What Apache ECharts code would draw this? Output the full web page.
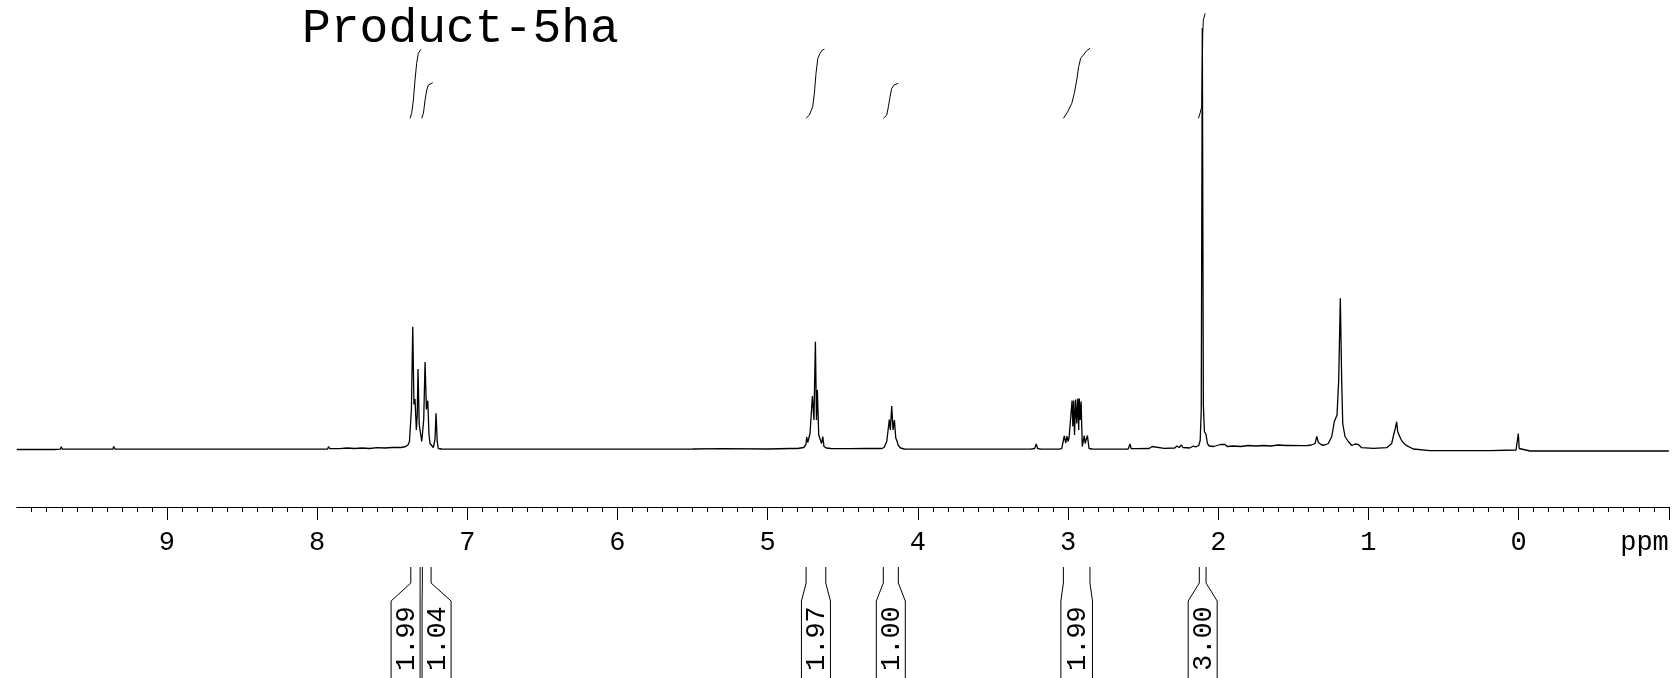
<!DOCTYPE html>
<html>
<head>
<meta charset="utf-8">
<script src="https://cdn.jsdelivr.net/npm/echarts/dist/echarts.min.js"></script>
<style>
html,body{margin:0;padding:0;background:#fff;}
#chart{width:1679px;height:678px;}
</style>
</head>
<body>
<div id="chart"></div>
<script>
// ---- DATA ----
const chartTitle = 'Product-5ha';
const axisUnit = 'ppm';
const majorTickValues = [-1, 0, 1, 2, 3, 4, 5, 6, 7, 8, 9];

// 1H spectrum: [ppm, intensity]
const spectrum = [
[10.0,0],[9.75,0],[9.71,0.3],[9.703,2.8],[9.696,0.3],
[9.36,0.3],[9.354,3],[9.346,0.5],
[8.68,0.3],[8.671,1.8],[8.66,0.3],
[8.135,0.3],[8.127,1.5],[8.12,0.3],
[7.93,0.5],[7.923,3],[7.915,0.8],
[7.85,0.8],[7.80,1.5],[7.75,1],[7.70,1.5],[7.65,1],[7.60,1.8],[7.55,1.5],[7.50,2],[7.465,2],[7.461,3],[7.44,2],[7.41,3],
[7.395,4.5],[7.385,8],[7.372,40],[7.363,122.8],[7.355,45],[7.348,50.5],[7.339,19.5],[7.333,35],[7.328,80.5],[7.320,25],[7.303,8],[7.290,30],[7.281,87.5],[7.272,40],[7.263,48.8],[7.255,15],[7.248,6],[7.226,2],[7.215,10],[7.208,36.2],[7.200,8],[7.193,1],[7.17,0.5],
[7.0,0.3],[6.5,0.3],[6.0,0.3],[5.5,0.5],[5.3,0.8],[5.0,0.5],[4.85,1],[4.80,1],
[4.760,2],[4.745,5],[4.740,12.5],[4.733,7],[4.728,6],[4.718,16],[4.710,14],[4.702,53.5],[4.692,29.5],[4.682,107.8],[4.675,29.5],[4.669,59.5],[4.660,14.5],[4.649,14.5],[4.641,6],[4.633,12.8],[4.625,3],[4.61,1.5],[4.58,1],
[4.45,0.8],[4.35,1],[4.26,1],
[4.24,1],[4.225,2],[4.215,3],[4.207,8],[4.198,19.5],[4.190,30],[4.183,19.5],[4.174,43.5],[4.165,19.5],[4.156,29.5],[4.147,11.5],[4.140,9],[4.130,4],[4.115,1.5],[4.09,0.5],
[3.8,0.3],[3.5,0.3],[3.25,0.3],[3.222,1],[3.212,5.5],[3.202,1],[3.18,0.3],
[3.06,0.3],[3.042,0.8],[3.025,13.5],[3.015,6.5],[3.007,13.5],[3.000,8],[2.993,12],[2.985,12.5],[2.973,49],[2.968,23],[2.962,49],[2.957,14.5],[2.949,50],[2.942,26],[2.935,51],[2.929,19.5],[2.925,51],[2.919,29.5],[2.913,48],[2.905,3],[2.892,14],[2.886,6],[2.871,14],[2.860,1],[2.84,0.5],
[2.7,0.3],[2.60,0.5],[2.592,1],[2.587,5.5],[2.580,1],[2.55,0.8],
[2.46,1],[2.44,3],[2.43,1.5],[2.36,1.2],[2.29,1.5],[2.275,3.5],[2.26,2],[2.245,4.5],[2.235,2],[2.19,1.5],[2.165,3.5],[2.150,2.5],
[2.130,4],[2.120,9],[2.113,40],[2.106,421.5],[2.099,45],[2.092,18],[2.081,15],[2.072,6],[2.06,3.5],[2.03,3],
[1.985,5],[1.975,3.5],[1.955,5],[1.94,3],[1.90,3.5],[1.85,3],[1.80,4],[1.75,3.5],[1.70,4],[1.65,3.5],[1.60,4.5],[1.55,4],[1.52,4],[1.45,3.8],[1.411,3.8],[1.38,4.5],
[1.355,6],[1.344,13.2],[1.333,7],[1.327,8.5],[1.311,4.5],[1.290,4.5],[1.267,6],[1.244,13],[1.227,28],[1.218,26.5],[1.209,34.5],[1.198,69],[1.187,151.2],[1.178,69],[1.171,26],[1.156,13],[1.134,8],[1.111,4],[1.089,5.5],[1.078,3.5],[1.067,5],[1.045,1.8],[0.967,1.2],[0.878,1.8],
[0.845,6],[0.830,16],[0.821,21],[0.812,27.8],[0.805,17.8],[0.794,16.8],[0.783,10],[0.768,6.8],[0.745,3.8],[0.701,0.5],[0.59,-1.2],[0.19,-1.2],[0.017,-0.5],
[0.008,1],[0.002,16],[-0.004,1],[-0.009,-0.5],[-0.076,-1.5],[-1.0,-1.5]
];

// integral curves (running integral traces drawn above the peaks): [ppm, level]
const integralCurveA = [[7.381,331.2],[7.370,336.2],[7.359,349.5],[7.348,369.5],[7.337,386.2],[7.326,396.2],[7.308,400.2]];
const integralCurveB = [[7.303,331.2],[7.292,336.2],[7.281,349.5],[7.270,359.5],[7.259,364.5],[7.230,366.8]];
const integralCurveC = [[4.744,331.2],[4.722,334.5],[4.700,342.8],[4.689,356.2],[4.678,376.2],[4.666,391.2],[4.651,396.2],[4.636,399.5],[4.622,400.2]];
const integralCurveD = [[4.229,331.2],[4.207,334.5],[4.196,342.8],[4.185,352.8],[4.174,361.2],[4.158,364.5],[4.130,366.2]];
const integralCurveE = [[3.031,331.2],[3.002,337.8],[2.975,346.2],[2.958,356.2],[2.942,369.5],[2.929,382.8],[2.916,391.2],[2.898,394.5],[2.876,398.8],[2.854,401.2]];
const integralCurveF = [[2.132,331.2],[2.121,336.2],[2.110,342.8],[2.106,382.8],[2.103,416.2],[2.099,429.5],[2.087,436.2]];

// integration regions and their values
const integStart = [7.376, 7.299, 4.744, 4.230, 3.031, 2.126];
const integEnd   = [7.314, 7.241, 4.613, 4.130, 2.854, 2.081];
const integValue = ['1.99', '1.04', '1.97', '1.00', '1.99', '3.00'];

// axis
const ppmMin = -1, ppmMax = 10;
const yMin = -57.5, yMax = 449.5;

// ---- CHART ----
const FONT = '"Liberation Mono", "DejaVu Sans Mono", monospace';
const chart = echarts.init(document.getElementById('chart'), null, {renderer: 'canvas'});

function layoutBoxes(api) {
  const boxes = integStart.map((s, i) => {
    const a = api.coord([s, 0])[0], b = api.coord([integEnd[i], 0])[0];
    const x1 = Math.min(a, b), x2 = Math.max(a, b);
    return {x1, x2, w: Math.max(x2 - x1 + 5, 29), c: (x1 + x2) / 2};
  });
  const order = boxes.map((b, i) => i).sort((p, q) => boxes[p].c - boxes[q].c);
  for (let it = 0; it < 30; it++) {
    let moved = false;
    for (let k = 0; k < order.length - 1; k++) {
      const A = boxes[order[k]], B = boxes[order[k + 1]];
      const need = A.w / 2 + B.w / 2 + 2 - (B.c - A.c);
      if (need > 0.01) { A.c -= need / 2; B.c += need / 2; moved = true; }
    }
    if (!moved) break;
  }
  return boxes;
}

function renderIntegral(params, api) {
  const boxes = layoutBoxes(api);
  const b = boxes[params.dataIndex];
  const ay = api.coord([0, yMin])[1];
  const L = b.c - b.w / 2, R = b.c + b.w / 2;
  const ls = {stroke: '#000', lineWidth: 1, fill: null};
  return {
    type: 'group',
    children: [
      {type: 'polyline', shape: {points: [[b.x1, ay + 60], [b.x1, ay + 76], [L, ay + 94], [L, ay + 200]]}, style: ls},
      {type: 'polyline', shape: {points: [[b.x2, ay + 60], [b.x2, ay + 76], [R, ay + 94], [R, ay + 200]]}, style: ls},
      {type: 'text', x: b.c + 1, y: ay + 164, rotation: Math.PI / 2,
       style: {text: integValue[params.dataIndex], font: '27px ' + FONT, fill: '#000', align: 'left', verticalAlign: 'middle'}}
    ]
  };
}

const curveSeries = [integralCurveA, integralCurveB, integralCurveC, integralCurveD, integralCurveE, integralCurveF].map(d => ({
  type: 'line', data: d, showSymbol: false, symbol: 'none', silent: true,
  lineStyle: {color: '#000', width: 1}, z: 3
}));

chart.setOption({
  animation: false,
  backgroundColor: '#fff',
  grid: {left: 16.7, right: 10.2, top: 0, bottom: 171, containLabel: false},
  xAxis: {
    type: 'value', inverse: true, min: ppmMin, max: ppmMax, interval: 1,
    axisLine: {show: true, onZero: false, lineStyle: {color: '#000', width: 1}},
    axisTick: {show: true, length: 13, customValues: majorTickValues, lineStyle: {color: '#000', width: 1}},
    minorTick: {show: true, splitNumber: 10, length: 5, lineStyle: {color: '#000', width: 1}},
    splitLine: {show: false},
    axisLabel: {
      margin: 22, color: '#000', fontFamily: FONT, fontSize: 27,
      showMinLabel: true, showMaxLabel: true, alignMinLabel: 'right',
      formatter: v => v === ppmMin ? axisUnit : (v === ppmMax ? '' : String(v))
    }
  },
  yAxis: {type: 'value', min: yMin, max: yMax, show: false, splitLine: {show: false}},
  graphic: [{
    type: 'text', left: 302, top: 5,
    style: {text: chartTitle, font: '48px ' + FONT, fill: '#000'}
  }],
  series: [
    {type: 'line', data: spectrum, showSymbol: false, symbol: 'none', silent: true,
     lineStyle: {color: '#000', width: 1.3}, z: 4},
    ...curveSeries,
    {type: 'custom', coordinateSystem: 'cartesian2d', silent: true, clip: false,
     data: integStart.map((s, i) => [s, integEnd[i], 0]),
     encode: {x: [0, 1], y: 2},
     renderItem: renderIntegral, z: 5}
  ]
});
</script>
</body>
</html>
